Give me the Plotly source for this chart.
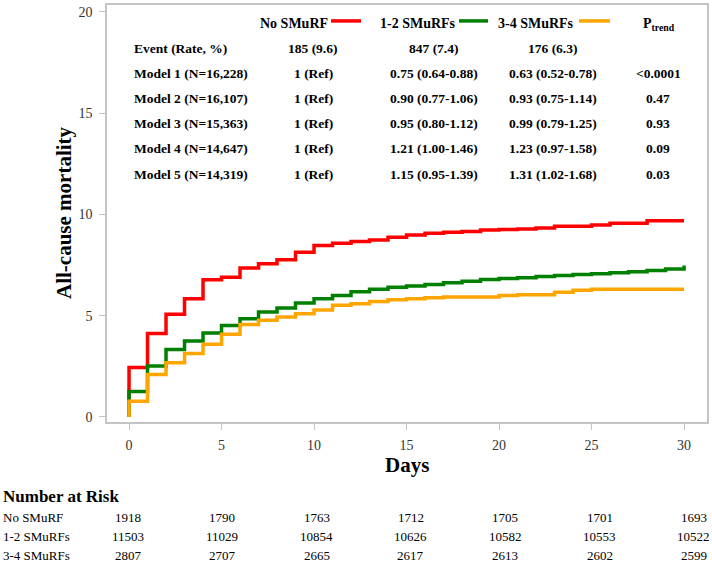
import plotly.graph_objects as go

# ---------------- data ----------------
days = list(range(0, 31))
no_smurf = [2.44, 4.12, 5.07, 5.84, 6.77, 6.90, 7.35, 7.56, 7.76, 8.13, 8.47,
            8.57, 8.66, 8.74, 8.87, 8.98, 9.07, 9.12, 9.16, 9.23, 9.25,
            9.28, 9.33, 9.41, 9.41, 9.48, 9.56, 9.56, 9.69, 9.69, 9.69]
smurf_12 = [1.25, 2.51, 3.33, 3.75, 4.15, 4.51, 4.85, 5.18, 5.38, 5.62, 5.84,
            6.00, 6.18, 6.31, 6.40, 6.47, 6.54, 6.63, 6.70, 6.78, 6.84,
            6.87, 6.94, 6.98, 7.03, 7.07, 7.12, 7.17, 7.23, 7.31, 7.48]
smurf_34 = [0.77, 2.10, 2.67, 3.13, 3.59, 4.08, 4.57, 4.77, 4.93, 5.10, 5.28,
            5.51, 5.59, 5.70, 5.79, 5.84, 5.89, 5.92, 5.92, 5.92, 6.00,
            6.03, 6.03, 6.16, 6.25, 6.31, 6.31, 6.31, 6.31, 6.31, 6.31]

group_names = ["No SMuRF", "1-2 SMuRFs", "3-4 SMuRFs"]
group_colors = ["#FF0000", "#008000", "#FFA500"]

row_labels = ["Event (Rate, %)", "Model 1 (N=16,228)", "Model 2 (N=16,107)",
              "Model 3 (N=15,363)", "Model 4 (N=14,647)", "Model 5 (N=14,319)"]
col_no = ["185 (9.6)", "1 (Ref)", "1 (Ref)", "1 (Ref)", "1 (Ref)", "1 (Ref)"]
col_12 = ["847 (7.4)", "0.75 (0.64-0.88)", "0.90 (0.77-1.06)", "0.95 (0.80-1.12)",
          "1.21 (1.00-1.46)", "1.15 (0.95-1.39)"]
col_34 = ["176 (6.3)", "0.63 (0.52-0.78)", "0.93 (0.75-1.14)", "0.99 (0.79-1.25)",
          "1.23 (0.97-1.58)", "1.31 (1.02-1.68)"]
col_p = ["", "<0.0001", "0.47", "0.93", "0.09", "0.03"]

risk_no = [1918, 1790, 1763, 1712, 1705, 1701, 1693]
risk_12 = [11503, 11029, 10854, 10626, 10582, 10553, 10522]
risk_34 = [2807, 2707, 2665, 2617, 2613, 2602, 2599]

# ---------------- layout helpers ----------------
W, H = 712, 568
L, R, T, B = 107, 5, 3, 146
PW, PH = W - L - R, H - T - B
FONT = "Liberation Serif"


def px(x):
    return (x - L) / PW


def py(y):
    return (H - B - y) / PH


fig = go.Figure()
for vals, name, col in zip([no_smurf, smurf_12, smurf_34], group_names, group_colors):
    fig.add_trace(go.Scatter(x=[0] + days, y=[0] + vals, mode="lines",
                             line=dict(color=col, width=3.5, shape="hv"),
                             name=name, showlegend=False))

ann = []
shapes = []


def text(x, y, s, size=13.5, bold=True, anchor="center", angle=0):
    ann.append(dict(x=px(x), y=py(y), xref="paper", yref="paper",
                    text=f"<b>{s}</b>" if bold else s, showarrow=False,
                    xanchor=anchor, yanchor="middle", textangle=angle,
                    borderpad=0,
                    font=dict(family=FONT, size=size, color="black")))


# header with legend swatches
head_right = [329, 457, 575]
line_span = [(331, 361), (459, 488), (579, 610)]
for name, col, xr, (x0, x1) in zip(group_names, group_colors, head_right, line_span):
    text(xr, 22, name, size=14, anchor="right")
    shapes.append(dict(type="line", xref="paper", yref="paper",
                       x0=px(x0), x1=px(x1), y0=py(19), y1=py(19),
                       line=dict(color=col, width=3.5)))
text(659, 23, "P<sub>trend</sub>", size=14)

row_y = [47, 72, 97, 122, 147, 173]
for i, yy in enumerate(row_y):
    text(133, yy, row_labels[i], anchor="left")
    text(313, yy, col_no[i])
    text(434, yy, col_12[i])
    text(553, yy, col_34[i])
    if col_p[i]:
        text(658, yy, col_p[i])

# axis titles
text(64, 212, "All-cause mortality", size=21, angle=-90)
text(407, 465, "Days", size=21)

# number at risk
ann.append(dict(x=px(1), y=py(497), xref="paper", yref="paper", text="<b>Number at Risk</b>",
                showarrow=False, xanchor="left", yanchor="middle",
                font=dict(family=FONT, size=17, color="black")))
risk_rows = [risk_no, risk_12, risk_34]
risk_y = [518, 537, 556]
for name, row, yy in zip(group_names, risk_rows, risk_y):
    ann.append(dict(x=px(1), y=py(yy), xref="paper", yref="paper", text=name,
                    showarrow=False, xanchor="left", yanchor="middle",
                    font=dict(family=FONT, size=13, color="black")))
    for j, v in enumerate(row):
        ann.append(dict(x=px(128 + j * 94.3), y=py(yy), xref="paper", yref="paper",
                        text=str(v), showarrow=False, xanchor="center", yanchor="middle",
                        font=dict(family=FONT, size=13, color="black")))

axis_common = dict(showline=True, mirror=True, linecolor="#C4C4C4", linewidth=1.5,
                   ticks="outside", tickcolor="#C4C4C4", ticklen=6, tickwidth=1,
                   showgrid=False, zeroline=False,
                   tickfont=dict(family=FONT, size=14, color="#333333"))

fig.update_layout(
    width=W, height=H,
    margin=dict(l=L, r=R, t=T, b=B),
    paper_bgcolor="white", plot_bgcolor="white",
    xaxis=dict(range=[-1.19, 31.24], tickvals=[0, 5, 10, 15, 20, 25, 30],
               ticklabelstandoff=3, **axis_common),
    yaxis=dict(range=[-0.25, 20.34], tickvals=[0, 5, 10, 15, 20],
               ticklabelstandoff=4, **axis_common),
    annotations=ann, shapes=shapes,
)

fig.write_html("out.html", config={"displayModeBar": False},
               post_script="document.body.style.margin='0';document.body.style.overflow='hidden';")
